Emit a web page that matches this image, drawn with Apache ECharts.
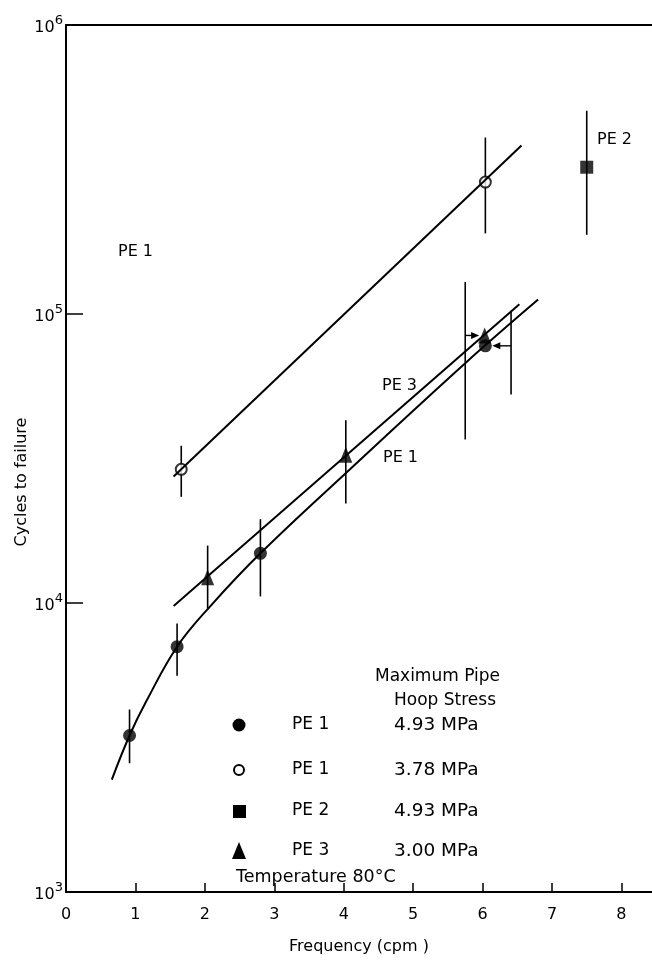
<!DOCTYPE html>
<html>
<head>
<meta charset="utf-8">
<script src="https://cdn.jsdelivr.net/npm/echarts@6/dist/echarts.min.js"></script>
<style>
  html, body { margin: 0; padding: 0; background: #fff; }
  #chart { width: 652px; height: 960px; }
</style>
</head>
<body>
<div id="chart"></div>
<script>
// points, [frequency cpm, cycles to failure]
const pe1Filled = [[0.915, 3480], [1.60, 7060], [2.80, 14860], [6.04, 77600]]
const pe1Open = [[1.66, 29000], [6.04, 286000]]
const pe2Square = [[7.50, 322000]]
const pe3Tri = [[2.04, 12270], [4.03, 32600], [6.03, 84300]]

// error bars [x, low, high]
const errBars = [
  [0.915, 2790, 4280], [1.60, 5600, 8490], [2.80, 10540, 19500],
  [1.66, 23300, 35000], [6.04, 190000, 408000],
  [7.50, 188000, 505000],
  [2.04, 9570, 15800], [4.03, 22100, 42900]
]
// bars drawn beside the 6 cpm points, [barX, low, high, arrowY, arrowTipX]
const sideBars = [[5.75, 36800, 129000, 84300, 5.95], [6.41, 52700, 102600, 77600, 6.14]]

// fitted lines
const pe1FitX = [0.66, 0.915, 1.156, 1.60, 2.07, 2.80, 4.04, 5.75, 6.80]
const pe1FitY = [2450, 3480, 4570, 7060, 9700, 14860, 28300, 67600, 112200]
const pe1OpenFit = [[1.55, 27400], [6.56, 383000]]
const pe3Fit = [[1.55, 9770], [6.53, 108000]]

const xTicks = [0, 1, 2, 3, 4, 5, 6, 7, 8]
const sup = { 1000: '3', 10000: '4', 100000: '5', 1000000: '6' }

const FONT = 'DejaVu Sans'
const chart = echarts.init(document.getElementById('chart'))

function errItem (params, api) {
  const lo = api.coord([api.value(0), api.value(1)])
  const hi = api.coord([api.value(0), api.value(2)])
  return {
    type: 'line',
    shape: { x1: lo[0], y1: lo[1], x2: hi[0], y2: hi[1] },
    style: { stroke: '#000', lineWidth: 1.6 }
  }
}

function sideItem (params, api) {
  const lo = api.coord([api.value(0), api.value(1)])
  const hi = api.coord([api.value(0), api.value(2)])
  const a0 = api.coord([api.value(0), api.value(3)])
  const tip = api.coord([api.value(4), api.value(3)])
  const dir = tip[0] > a0[0] ? 1 : -1
  return {
    type: 'group',
    children: [
      { type: 'line', shape: { x1: lo[0], y1: lo[1], x2: hi[0], y2: hi[1] }, style: { stroke: '#000', lineWidth: 1.6 } },
      { type: 'line', shape: { x1: a0[0], y1: a0[1], x2: tip[0] - dir * 6, y2: tip[1] }, style: { stroke: '#000', lineWidth: 1.4 } },
      { type: 'polygon', shape: { points: [[tip[0], tip[1]], [tip[0] - dir * 8, tip[1] - 3.5], [tip[0] - dir * 8, tip[1] + 3.5]] }, style: { fill: '#000' } }
    ]
  }
}

function txt (text, x, y, size) {
  return {
    type: 'text',
    x: x,
    y: y,
    style: { text: text, font: (size || 16) + 'px "' + FONT + '"', fill: '#000', verticalAlign: 'middle' }
  }
}

const legendRows = [
  { y: 725, name: 'PE 1', val: '4.93 MPa' },
  { y: 770, name: 'PE 1', val: '3.78 MPa' },
  { y: 811, name: 'PE 2', val: '4.93 MPa' },
  { y: 851, name: 'PE 3', val: '3.00 MPa' }
]
const legendItems = [
  txt('Maximum Pipe', 375, 677, 17),
  txt('Hoop Stress', 394, 701, 17),
  { type: 'circle', shape: { cx: 239, cy: 725, r: 6.5 }, style: { fill: '#000' } },
  { type: 'circle', shape: { cx: 239, cy: 770, r: 5 }, style: { fill: '#fff', stroke: '#000', lineWidth: 2 } },
  { type: 'rect', shape: { x: 233, y: 805, width: 13, height: 13 }, style: { fill: '#000' } },
  { type: 'polygon', shape: { points: [[239, 842], [232, 859], [246, 859]] }, style: { fill: '#000' } },
  txt('Temperature 80°C', 236, 877, 17.5)
]
legendRows.forEach(r => {
  legendItems.push(txt(r.name, 292, r.y, 17))
  legendItems.push(txt(r.val, 394, r.y, 18.5))
})

const option = {
  animation: false,
  textStyle: { fontFamily: FONT, color: '#000' },
  grid: { left: 66, right: 0, top: 25, bottom: 61 },
  xAxis: [{
    type: 'value',
    min: 0,
    max: 8.44,
    interval: 1,
    name: 'Frequency (cpm )',
    nameLocation: 'middle',
    nameGap: 47,
    nameTextStyle: { fontSize: 16, color: '#000', fontFamily: FONT },
    axisLine: { lineStyle: { color: '#000', width: 2 } },
    axisTick: { inside: true, length: 9, lineStyle: { color: '#000', width: 1.5 }, customValues: xTicks },
    axisLabel: { color: '#000', fontSize: 16, margin: 15, customValues: xTicks },
    splitLine: { show: false }
  }, {
    type: 'value',
    position: 'top',
    min: 0,
    max: 8.44,
    axisLine: { lineStyle: { color: '#000', width: 2 } },
    axisTick: { show: false },
    axisLabel: { show: false },
    splitLine: { show: false }
  }],
  yAxis: {
    type: 'log',
    logBase: 10,
    min: 1000,
    max: 1000000,
    axisLine: { show: true, lineStyle: { color: '#000', width: 2 } },
    axisTick: { inside: true, length: 17, lineStyle: { color: '#000', width: 1.5 } },
    axisLabel: {
      margin: 3,
      formatter: v => '{b|10}{s|' + (sup[Math.round(v)] || '') + '}',
      rich: {
        b: { fontSize: 16, color: '#000', fontFamily: FONT, padding: [6, 0, 0, 0] },
        s: { fontSize: 13, color: '#000', fontFamily: FONT, padding: [0, 0, 8, 0] }
      }
    },
    splitLine: { show: false }
  },
  graphic: [
    txt('PE 1', 118, 252, 16),
    txt('PE 3', 382, 386, 16),
    txt('PE 1', 383, 458, 16),
    txt('PE 2', 597, 140, 16),
    {
      type: 'text',
      x: 22,
      y: 482,
      rotation: Math.PI / 2,
      style: { text: 'Cycles to failure', font: '16px "' + FONT + '"', fill: '#000', align: 'center', verticalAlign: 'middle' }
    }
  ].concat(legendItems),
  series: [
    {
      type: 'line',
      data: pe1FitX.map((x, i) => [x, pe1FitY[i]]),
      smooth: 0.4,
      showSymbol: false,
      lineStyle: { color: '#000', width: 2 }
    },
    {
      type: 'line',
      data: pe1OpenFit,
      showSymbol: false,
      lineStyle: { color: '#000', width: 2 }
    },
    {
      type: 'line',
      data: pe3Fit,
      showSymbol: false,
      lineStyle: { color: '#000', width: 2 }
    },
    { type: 'custom', renderItem: errItem, data: errBars },
    { type: 'custom', renderItem: sideItem, data: sideBars },
    {
      type: 'scatter',
      data: pe1Filled,
      symbol: 'circle',
      symbolSize: 13,
      itemStyle: { color: '#000' }
    },
    {
      type: 'scatter',
      data: pe1Open,
      symbol: 'circle',
      symbolSize: 11,
      itemStyle: { color: '#fff', borderColor: '#000', borderWidth: 2 }
    },
    {
      type: 'scatter',
      data: pe2Square,
      symbol: 'rect',
      symbolSize: 13,
      itemStyle: { color: '#000' }
    },
    {
      type: 'scatter',
      data: pe3Tri,
      symbol: 'triangle',
      symbolSize: [13, 16],
      itemStyle: { color: '#000' }
    }
  ]
}
chart.setOption(option)
</script>
</body>
</html>
